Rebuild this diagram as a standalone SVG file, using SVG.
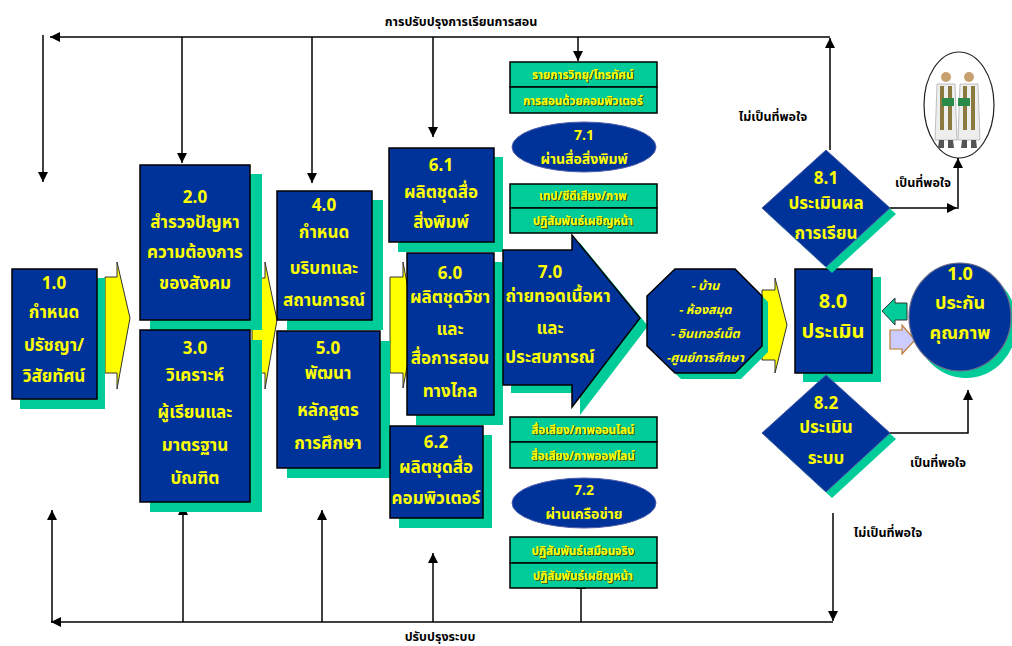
<svg xmlns="http://www.w3.org/2000/svg" width="1012" height="646" viewBox="0 0 1012 646">
<defs>
<style>
.box{fill:#003399;stroke:#000;stroke-width:1.5}
.sh{fill:#00cc99}
.gb{fill:#00cc99;stroke:#000;stroke-width:1.5}
.yar{fill:#ffff00;stroke:#333;stroke-width:1}
.t{font-family:"Noto Sans Thai","Noto Sans","DejaVu Sans",sans-serif;font-weight:bold;fill:#ffff00;text-anchor:middle}
.t17{font-size:17px}
.t14{font-size:14px}
.t18{font-size:18px}
.t20{font-size:20px}
.t13{font-size:12.5px;font-style:italic}
.g{font-family:"Noto Sans Thai","Noto Sans","DejaVu Sans",sans-serif;font-weight:bold;fill:#ffff00;text-anchor:middle;font-size:11.5px;filter:url(#ds)}
.lb{font-family:"Noto Sans Thai","Noto Sans","DejaVu Sans",sans-serif;font-weight:bold;fill:#000;text-anchor:middle;font-size:12.5px}
.ln{fill:none;stroke:#000;stroke-width:1.5}
</style>
<filter id="ds" x="-10%" y="-20%" width="120%" height="150%">
<feDropShadow dx="1" dy="1" stdDeviation="0.3" flood-color="#5a3a00" flood-opacity="0.9"/>
</filter>
<marker id="ah" viewBox="0 0 10 10" refX="10" refY="5" markerWidth="10" markerHeight="10" markerUnits="userSpaceOnUse" orient="auto">
<path d="M0,0 L10,5 L0,10 Z" fill="#000"/>
</marker>
</defs>
<rect width="1012" height="646" fill="#fff"/>

<g id="connectors">
<path class="ln" d="M830,37 L50,37" marker-end="url(#ah)"/>
<path class="ln" d="M830,150 L830,38" marker-end="url(#ah)"/>
<path class="ln" d="M43,35 L43,182" marker-end="url(#ah)"/>
<path class="ln" d="M182,37 L182,163" marker-end="url(#ah)"/>
<path class="ln" d="M312,37 L312,183" marker-end="url(#ah)"/>
<path class="ln" d="M433,37 L433,137" marker-end="url(#ah)"/>
<path class="ln" d="M578,37 L578,61" marker-end="url(#ah)"/>
<path class="ln" d="M833,513 L833,621" marker-end="url(#ah)"/>
<path class="ln" d="M833,622 L51,622" marker-end="url(#ah)"/>
<path class="ln" d="M52,622 L52,510" marker-end="url(#ah)"/>
<path class="ln" d="M183,622 L183,505" marker-end="url(#ah)"/>
<path class="ln" d="M322,622 L322,510" marker-end="url(#ah)"/>
<path class="ln" d="M433,622 L433,553" marker-end="url(#ah)"/>
<path class="ln" d="M581,622 L581,579" marker-end="url(#ah)"/>
<path class="ln" d="M890,208 L957,208" marker-end="url(#ah)"/>
<path class="ln" d="M958,209 L958,158" marker-end="url(#ah)"/>
<path class="ln" d="M890,433 L968,433 L968,390" marker-end="url(#ah)"/>
<path class="yar" d="M105,277 L117,277 L117,262 L130,318 L117,389 L117,373 L105,373 Z"/>
<path class="yar" d="M252,278 L265,278 L265,262 L277,320 L265,389 L265,373 L252,373 Z"/>
<path class="yar" d="M390,277 L403,277 L403,262 L415,325 L403,388 L403,373 L390,373 Z"/>
<path class="yar" d="M762,290 L775,290 L775,278 L787,325 L775,373 L775,360 L762,360 Z"/>
<path d="M907,303 L895,303 L895,298 L882,311 L895,325 L895,320 L907,320 Z" fill="#00cc99" stroke="#333" stroke-width="1"/>
<path d="M890,330 L902,330 L902,325 L915,340 L902,354 L902,349 L890,349 Z" fill="#ccccff" stroke="#c07a30" stroke-width="1.2"/>
</g>

<text class="lb" x="461" y="26">การปรับปรุงการเรียนการสอน</text>
<text class="lb" x="440" y="641">ปรับปรุงระบบ</text>
<text class="lb" x="773" y="121">ไม่เป็นที่พอใจ</text>
<text class="lb" x="888" y="537">ไม่เป็นที่พอใจ</text>
<text class="lb" x="923" y="187">เป็นที่พอใจ</text>
<text class="lb" x="938" y="467">เป็นที่พอใจ</text>

<g id="n1">
<rect class="sh" x="20" y="278" width="85" height="131"/>
<rect class="box" x="12" y="269" width="85" height="130"/>
<text class="t t17" x="54" y="289">1.0</text>
<text class="t t17" x="54" y="318">กำหนด</text>
<text class="t t17" x="54" y="351">ปรัชญา/</text>
<text class="t t17" x="54" y="382">วิสัยทัศน์</text>
</g>

<g id="n2">
<rect class="sh" x="150" y="174" width="112" height="156"/>
<rect class="box" x="140" y="165" width="110" height="155"/>
<text class="t t17" x="195" y="203">2.0</text>
<text class="t t17" x="195" y="228">สำรวจปัญหา</text>
<text class="t t17" x="195" y="258">ความต้องการ</text>
<text class="t t17" x="195" y="289">ของสังคม</text>
</g>

<g id="n3">
<rect class="sh" x="150" y="340" width="112" height="172"/>
<rect class="box" x="140" y="330" width="110" height="172"/>
<text class="t t17" x="195" y="354">3.0</text>
<text class="t t17" x="195" y="381">วิเคราะห์</text>
<text class="t t17" x="195" y="418">ผู้เรียนและ</text>
<text class="t t17" x="195" y="451">มาตรฐาน</text>
<text class="t t17" x="195" y="484">บัณฑิต</text>
</g>

<g id="n4">
<rect class="sh" x="287" y="200" width="96" height="130"/>
<rect class="box" x="277" y="191" width="95" height="129"/>
<text class="t t17" x="324" y="211">4.0</text>
<text class="t t17" x="324" y="238">กำหนด</text>
<text class="t t17" x="324" y="274">บริบทและ</text>
<text class="t t17" x="324" y="306">สถานการณ์</text>
</g>

<g id="n5">
<rect class="sh" x="287" y="341" width="103" height="137"/>
<rect class="box" x="277" y="331" width="103" height="137"/>
<text class="t t17" x="328" y="354">5.0</text>
<text class="t t17" x="328" y="379">พัฒนา</text>
<text class="t t17" x="328" y="416">หลักสูตร</text>
<text class="t t17" x="328" y="449">การศึกษา</text>
</g>

<g id="n61">
<rect class="sh" x="398" y="157" width="105" height="95"/>
<rect class="box" x="389" y="148" width="105" height="94"/>
<text class="t t17" x="441" y="171">6.1</text>
<text class="t t17" x="441" y="198">ผลิตชุดสื่อ</text>
<text class="t t17" x="441" y="228">สิ่งพิมพ์</text>
</g>

<g id="n60">
<rect class="sh" x="416" y="262" width="87" height="163"/>
<rect class="box" x="407" y="253" width="87" height="162"/>
<text class="t t17" x="450" y="279">6.0</text>
<text class="t t17" x="450" y="303">ผลิตชุดวิชา</text>
<text class="t t17" x="450" y="335">และ</text>
<text class="t t17" x="450" y="364">สื่อการสอน</text>
<text class="t t17" x="450" y="397">ทางไกล</text>
</g>

<g id="n62">
<rect class="sh" x="399" y="435" width="93" height="93"/>
<rect class="box" x="390" y="426" width="93" height="92"/>
<text class="t t17" x="436" y="448">6.2</text>
<text class="t t17" x="436" y="473">ผลิตชุดสื่อ</text>
<text class="t t17" x="436" y="504">คอมพิวเตอร์</text>
</g>

<g id="n70">
<path class="sh" d="M511,258 L580,258 L580,243 L648,326 L580,415 L580,393 L511,393 Z"/>
<path class="box" d="M503,250 L572,250 L572,235 L640,318 L572,407 L572,385 L503,385 Z"/>
<text class="t t17" x="550" y="278">7.0</text>
<text class="t t17" x="558" y="302">ถ่ายทอดเนื้อหา</text>
<text class="t t17" x="550" y="334">และ</text>
<text class="t t17" x="550" y="363">ประสบการณ์</text>
</g>

<g id="m1">
<rect class="gb" x="510" y="62" width="147" height="25"/>
<rect class="gb" x="510" y="87" width="147" height="26"/>
<text class="g" x="583" y="79">รายการวิทยุ/โทรทัศน์</text>
<text class="g" x="583" y="105">การสอนด้วยคอมพิวเตอร์</text>
</g>

<g id="n71">
<ellipse cx="584" cy="147" rx="72" ry="25" fill="#003399" stroke="#5060b0" stroke-width="1"/>
<text class="t t14" x="584" y="140">7.1</text>
<text class="t t14" x="584" y="164">ผ่านสื่อสิ่งพิมพ์</text>
</g>

<g id="m2">
<rect class="gb" x="510" y="184" width="147" height="24"/>
<rect class="gb" x="510" y="208" width="147" height="25"/>
<text class="g" x="583" y="200">เทป/ซีดีเสียง/ภาพ</text>
<text class="g" x="583" y="225">ปฏิสัมพันธ์เผชิญหน้า</text>
</g>

<g id="m3">
<rect class="gb" x="510" y="417" width="147" height="25"/>
<rect class="gb" x="510" y="442" width="147" height="26"/>
<text class="g" x="583" y="434">สื่อเสียง/ภาพออนไลน์</text>
<text class="g" x="583" y="460">สื่อเสียง/ภาพออฟไลน์</text>
</g>

<g id="n72">
<ellipse cx="584" cy="503" rx="72" ry="25" fill="#003399" stroke="#5060b0" stroke-width="1"/>
<text class="t t14" x="584" y="495">7.2</text>
<text class="t t14" x="584" y="519">ผ่านเครือข่าย</text>
</g>

<g id="m4">
<rect class="gb" x="510" y="537" width="147" height="26"/>
<rect class="gb" x="510" y="563" width="147" height="25"/>
<text class="g" x="583" y="555">ปฏิสัมพันธ์เสมือนจริง</text>
<text class="g" x="583" y="580">ปฏิสัมพันธ์เผชิญหน้า</text>
</g>

<g id="oct">
<path class="sh" d="M681,275 L741,275 L768,302 L768,352 L741,379 L681,379 L653,352 L653,302 Z"/>
<path class="box" d="M675,269 L735,269 L762,296 L762,346 L735,373 L675,373 L647,346 L647,296 Z"/>
<text class="t t13" x="705" y="290">- บ้าน</text>
<text class="t t13" x="705" y="314">- ห้องสมุด</text>
<text class="t t13" x="705" y="338">- อินเทอร์เน็ต</text>
<text class="t t13" x="705" y="362">-ศูนย์การศึกษา</text>
</g>

<g id="n80">
<rect class="sh" x="803" y="277" width="78" height="105"/>
<rect class="box" x="795" y="269" width="77" height="104"/>
<text class="t t20" x="833" y="308">8.0</text>
<text class="t t20" x="833" y="338">ประเมิน</text>
</g>

<g id="n81">
<path class="sh" d="M832,156 L896,214 L832,273 L768,214 Z"/>
<path d="M826,150 L890,208 L826,267 L762,208 Z" fill="#003399" stroke="#4a5aa8" stroke-width="1"/>
<text class="t t17" x="826" y="184">8.1</text>
<text class="t t17" x="826" y="209">ประเมินผล</text>
<text class="t t17" x="826" y="239">การเรียน</text>
</g>

<g id="n82">
<path class="sh" d="M832,381 L896,439 L832,498 L768,439 Z"/>
<path d="M826,375 L890,433 L826,492 L762,433 Z" fill="#003399" stroke="#4a5aa8" stroke-width="1"/>
<text class="t t17" x="826" y="409">8.2</text>
<text class="t t17" x="826" y="433">ประเมิน</text>
<text class="t t17" x="826" y="464">ระบบ</text>
</g>

<g id="n10q">
<ellipse class="sh" cx="966" cy="324" rx="51" ry="54"/>
<ellipse cx="960" cy="317" rx="51" ry="54" fill="#003399" stroke="#6a6a8a" stroke-width="1.2"/>
<text class="t t18" x="960" y="280">1.0</text>
<text class="t t18" x="960" y="309">ประกัน</text>
<text class="t t18" x="960" y="339">คุณภาพ</text>
</g>

<g id="grad">
<ellipse cx="959" cy="105" rx="35" ry="53" fill="#fff" stroke="#222" stroke-width="1.2"/>
<circle cx="946" cy="77" r="5" fill="#c8a070"/>
<circle cx="969" cy="77" r="5" fill="#c8a070"/>
<path d="M937,84 L955,84 L957,140 L935,140 Z" fill="#eeeeee" stroke="#999" stroke-width="0.6"/>
<path d="M960,84 L978,84 L980,140 L958,140 Z" fill="#eeeeee" stroke="#999" stroke-width="0.6"/>
<path d="M940,86 L944,86 L944,130 L940,130 Z M948,86 L952,86 L952,130 L948,130 Z" fill="#8a7a40"/>
<path d="M963,86 L967,86 L967,130 L963,130 Z M971,86 L975,86 L975,130 L971,130 Z" fill="#8a7a40"/>
<rect x="942" y="98" width="12" height="8" fill="#2a8a4a"/>
<rect x="958" y="98" width="12" height="8" fill="#2a8a4a"/>
<path d="M939,140 L944,140 L944,148 L938,148 Z M948,140 L953,140 L954,148 L948,148 Z" fill="#555"/>
<path d="M962,140 L967,140 L967,148 L961,148 Z M971,140 L976,140 L977,148 L971,148 Z" fill="#555"/>
</g>
</svg>
